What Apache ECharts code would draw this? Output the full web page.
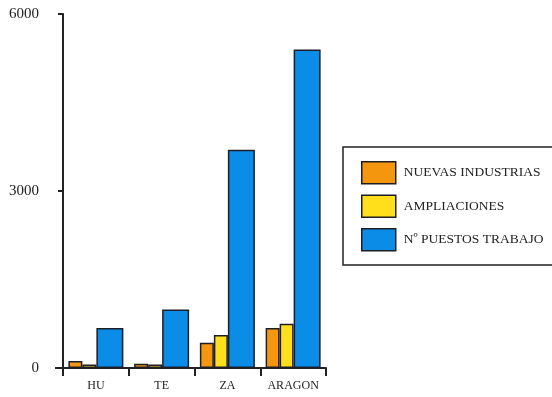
<!DOCTYPE html>
<html><head><meta charset="utf-8">
<script src="https://cdn.jsdelivr.net/npm/echarts@6/dist/echarts.min.js"></script>
<style>html,body{margin:0;padding:0;background:#fff}#c{width:552px;height:397px}</style>
</head><body><div id="c"></div>
<script>
const categories = ['HU', 'TE', 'ZA', 'ARAGON'];
const nuevasIndustrias = [120, 70, 430, 680];
const ampliaciones = [60, 60, 560, 750];
const puestosTrabajo = [680, 990, 3700, 5400];
const seriesNames = ['NUEVAS INDUSTRIAS', 'AMPLIACIONES', 'Nº PUESTOS TRABAJO'];

const chart = echarts.init(document.getElementById('c'), null, {renderer: 'canvas'});
const font = '"Liberation Serif", "DejaVu Serif", serif';
const border = {borderColor: '#1e1e28', borderWidth: 1.5};
chart.setOption({
  backgroundColor: '#ffffff',
  animation: false,
  textStyle: {fontFamily: font},
  grid: {left: 63, right: 226, top: 14, bottom: 29, containLabel: false},
  graphic: [
    {type: 'rect', shape: {x: 343, y: 147, width: 230, height: 118},
     style: {fill: 'none', stroke: '#222', lineWidth: 1.5}, z: 0},
    {type: 'line', shape: {x1: 55, y1: 368, x2: 64, y2: 368},
     style: {stroke: '#222', lineWidth: 2}}
  ],
  legend: {
    left: 356, top: 156, orient: 'vertical',
    itemWidth: 34, itemHeight: 22, itemGap: 10,
    icon: 'rect',
    itemStyle: border,
    textStyle: {fontFamily: font, fontSize: 13.5, color: '#222', padding: [0, 0, 0, 3]},
    data: seriesNames
  },
  xAxis: {
    type: 'category', data: categories,
    axisLine: {lineStyle: {color: '#222', width: 2}},
    axisTick: {show: true, interval: 0, length: 8, lineStyle: {color: '#222', width: 2}},
    axisLabel: {color: '#222', fontSize: 12, margin: 12, fontFamily: font, interval: 0, hideOverlap: false}
  },
  yAxis: {
    type: 'value', min: 0, max: 6000, interval: 3000,
    splitLine: {show: false},
    axisLine: {show: true, lineStyle: {color: '#222', width: 2}},
    axisTick: {show: true, length: 5, lineStyle: {color: '#222', width: 2}},
    axisLabel: {color: '#222', fontSize: 15, margin: 24, fontFamily: font,
                formatter: v => String(v)}
  },
  series: [
    {name: seriesNames[0], type: 'bar', data: nuevasIndustrias, barWidth: 14, barGap: '0%',
     itemStyle: Object.assign({color: '#f5960f'}, border)},
    {name: seriesNames[1], type: 'bar', data: ampliaciones, barWidth: 14, barGap: '0%',
     itemStyle: Object.assign({color: '#ffdf1c'}, border)},
    {name: seriesNames[2], type: 'bar', data: puestosTrabajo, barWidth: 27, barGap: '0%',
     itemStyle: Object.assign({color: '#0b8ce6'}, border)}
  ]
});
</script></body></html>
